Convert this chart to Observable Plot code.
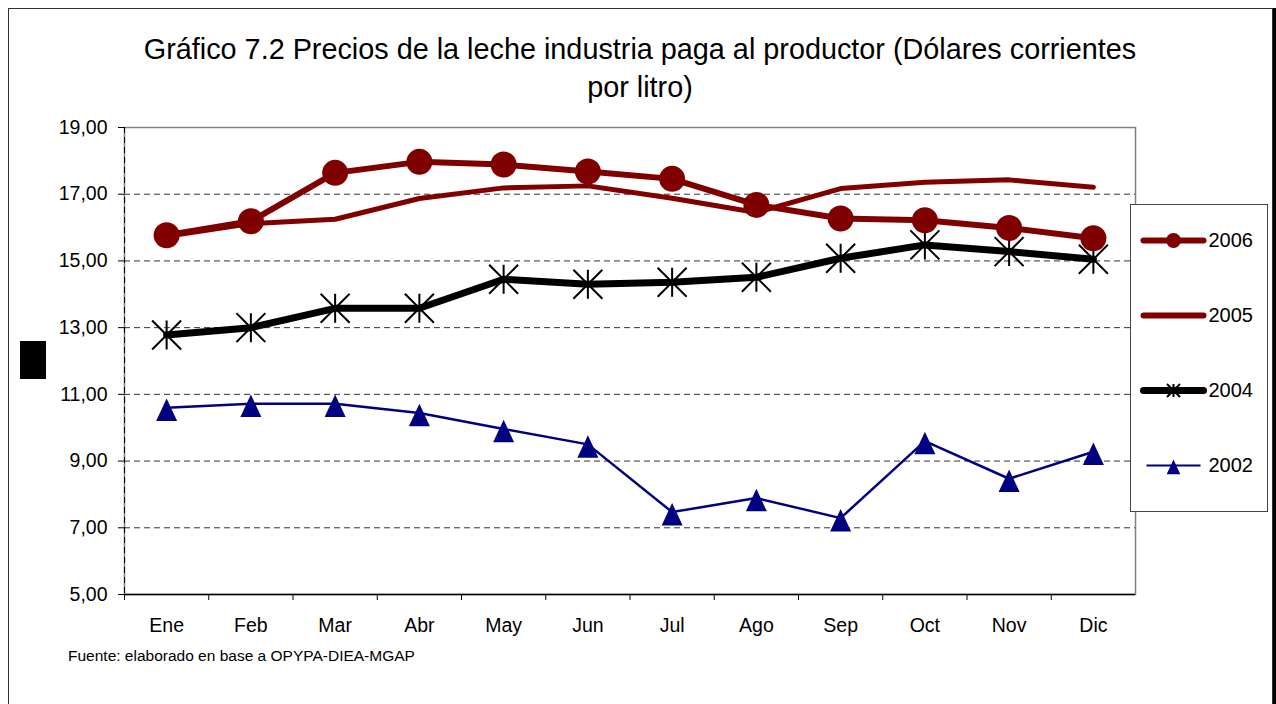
<!DOCTYPE html>
<html><head><meta charset="utf-8">
<script src="https://cdn.jsdelivr.net/npm/d3@7"></script>
<script src="https://cdn.jsdelivr.net/npm/@observablehq/plot@0.6"></script>
<style>
body{margin:0;background:#fff;}
#wrap{position:relative;width:1276px;height:704px;overflow:hidden;background:#fff;font-family:"Liberation Sans",Arial,sans-serif;color:#000;}
#chart{position:absolute;left:0;top:0;}
#frame{position:absolute;left:8px;top:8px;width:1263px;height:720px;border:1px solid #333;box-shadow:4px 0 0 #000;pointer-events:none;}
#title{position:absolute;left:8px;width:1264px;top:30px;text-align:center;font-size:28.8px;line-height:38px;}
#caption{position:absolute;left:68px;top:647px;font-size:15.5px;line-height:18px;white-space:nowrap;}
#blk{position:absolute;left:20px;top:341px;width:26px;height:38px;background:#000;}
#legend{position:absolute;left:1130px;top:204px;width:136px;height:306px;border:1px solid #444;background:#fff;}
#legend svg{display:block;}
</style></head>
<body>
<div id="wrap">
  <div id="chart"></div>
  <div id="frame"></div>
  <div id="title">Gráfico 7.2 Precios de la leche industria paga al productor (Dólares corrientes<br>por litro)</div>
  <div id="blk"></div>
  <div id="legend"></div>
  <div id="caption">Fuente: elaborado en base a OPYPA-DIEA-MGAP</div>
</div>
<script>
// ---- data ----
const months = ["Ene","Feb","Mar","Abr","May","Jun","Jul","Ago","Sep","Oct","Nov","Dic"];
const seriesNames = ["2006","2005","2004","2002"];
const v2006 = [15.77,16.19,17.64,17.97,17.89,17.68,17.46,16.68,16.27,16.22,15.99,15.68];
const v2005 = [15.74,16.12,16.25,16.87,17.19,17.25,16.88,16.45,17.17,17.36,17.43,17.21];
const v2004 = [12.78,13.00,13.58,13.58,14.45,14.30,14.36,14.51,15.08,15.48,15.28,15.05];
const v2002 = [10.60,10.72,10.72,10.44,9.96,9.50,7.47,7.89,7.29,9.60,8.47,9.28];
const yTicks = [5,7,9,11,13,15,17,19];
const gridValues = [7,9,11,13,15,17];

const rows = (name, vals) => months.map((m,i)=>({month:m, value:vals[i], series:name}));
const d2006 = rows("2006", v2006), d2005 = rows("2005", v2005), d2004 = rows("2004", v2004), d2002 = rows("2002", v2002);

// ---- custom symbols ----
const triSym = {draw(ctx, size){ const s=Math.sqrt(size/Math.PI); const w=s*2.1, h=s*2.25;
  ctx.moveTo(0,-0.41*h); ctx.lineTo(w/2,0.59*h); ctx.lineTo(-w/2,0.59*h); ctx.closePath(); }};
const starSym = {draw(ctx, size){ const a=Math.sqrt(size/Math.PI);
  ctx.moveTo(0,-a); ctx.lineTo(0,a); ctx.moveTo(-a,-a); ctx.lineTo(a,a); ctx.moveTo(-a,a); ctx.lineTo(a,-a); }};

const FONT = '"Liberation Sans", Arial, sans-serif';
const W=1276, H=704, mL=124, mR=141, mT=127, mB=110;
const bw = (W-mL-mR)/months.length;
const fmt = d => d.toFixed(2).replace(".", ",");

const chart = Plot.plot({
  width:W, height:H, marginLeft:mL, marginRight:mR, marginTop:mT, marginBottom:mB,
  style:{fontFamily:FONT, fontSize:"19.5px", color:"#000", background:"transparent", overflow:"visible"},
  x:{type:"point", domain:months, padding:0.5, round:false},
  y:{domain:[5,19]},
  marks:[
    Plot.frame({stroke:"#808080", strokeWidth:1.5}),
    Plot.ruleY(gridValues, {stroke:"#333", strokeDasharray:"6,4", strokeWidth:1}),
    Plot.ruleX([months[0]], {dx:-bw/2, stroke:"#000", strokeDasharray:"6,4", strokeWidth:1}),
    Plot.ruleY([5], {stroke:"#000", strokeWidth:1.5}),
    Plot.axisY({ticks:yTicks, tickFormat:fmt, tickSize:6, tickPadding:11, label:null, stroke:"#000"}),
    Plot.axisX({tickSize:6, dx:-bw/2, tickFormat:()=>"", label:null, stroke:"#000"}),
    Plot.axisX({tickSize:0, tickPadding:24, label:null}),
    Plot.line(d2002, {x:"month", y:"value", stroke:"#000080", strokeWidth:2.5}),
    Plot.dot(d2002, {x:"month", y:"value", symbol:triSym, r:10, fill:"#000080", stroke:"none"}),
    Plot.line(d2004, {x:"month", y:"value", stroke:"#000", strokeWidth:7, strokeLinecap:"round"}),
    Plot.dot(d2004, {x:"month", y:"value", symbol:starSym, r:14.5, stroke:"#000", strokeWidth:2, fill:"none"}),
    Plot.line(d2005, {x:"month", y:"value", stroke:"#800000", strokeWidth:5, strokeLinecap:"round"}),
    Plot.line(d2006, {x:"month", y:"value", stroke:"#800000", strokeWidth:6, strokeLinecap:"round"}),
    Plot.dot(d2006, {x:"month", y:"value", r:13, fill:"#800000", stroke:"none"})
  ]
});
document.getElementById("chart").appendChild(chart);

// ---- legend ----
const L = n => [{series:n}];
const legend = Plot.plot({
  width:136, height:306, margin:0,
  style:{fontFamily:FONT, fontSize:"20px", color:"#000", background:"transparent"},
  x:{domain:[0,1], range:[12,72], axis:null},
  y:{type:"point", domain:seriesNames, range:[35,260], padding:0, round:false, axis:null},
  marks:[
    Plot.link(L("2006"), {x1:0, x2:1, y1:"series", y2:"series", stroke:"#800000", strokeWidth:6, strokeLinecap:"round"}),
    Plot.dot(L("2006"), {x:()=>0.5, y:"series", r:7.5, fill:"#800000"}),
    Plot.link(L("2005"), {x1:0, x2:1, y1:"series", y2:"series", stroke:"#800000", strokeWidth:6, strokeLinecap:"round"}),
    Plot.link(L("2004"), {x1:0, x2:1, y1:"series", y2:"series", stroke:"#000", strokeWidth:7, strokeLinecap:"round"}),
    Plot.dot(L("2004"), {x:()=>0.5, y:"series", symbol:starSym, r:6.5, stroke:"#000", strokeWidth:2, fill:"none"}),
    Plot.link(L("2002"), {x1:0.05, x2:0.95, y1:"series", y2:"series", stroke:"#000080", strokeWidth:2}),
    Plot.dot(L("2002"), {x:()=>0.5, y:"series", symbol:triSym, r:6.5, fill:"#000080", stroke:"none"}),
    Plot.text(seriesNames, {x:()=>1, y:d=>d, text:d=>d, textAnchor:"start", dx:5, fill:"#000"})
  ]
});
document.getElementById("legend").appendChild(legend);
</script>
</body></html>
